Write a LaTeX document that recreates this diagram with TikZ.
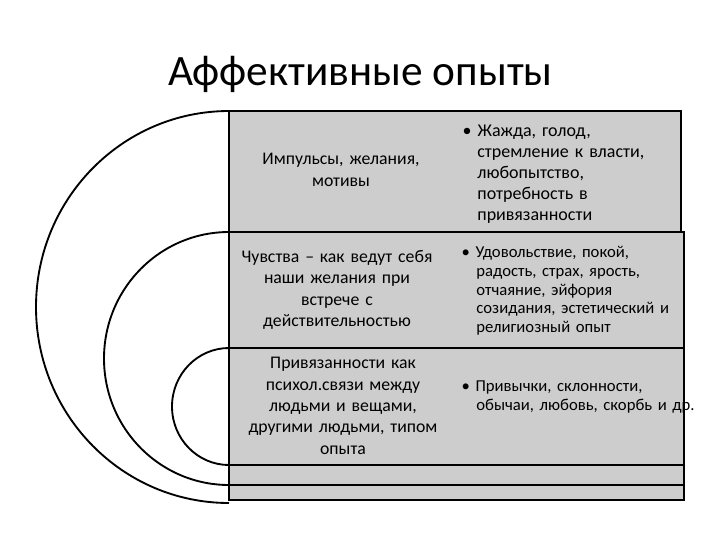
\documentclass[tikz,border=0pt]{standalone}
\usepackage{fontspec}
\setmainfont{Carlito}
\definecolor{boxgray}{HTML}{CDCDCD}
\begin{document}
\begin{tikzpicture}[x=0.75pt,y=-0.75pt,
  row/.style={draw=black,line width=1.4pt,fill=boxgray},
  arcline/.style={draw=black,line width=1.4pt},
  lefttxt/.style={align=center,font=\fontsize{13.3}{16}\selectfont,text width=170pt},
  righttxt/.style={align=left,font=\fontsize{12.5}{14}\selectfont,text width=200pt,anchor=north west}]
\useasboundingbox (0,0) rectangle (720,540);
\node[font=\fontsize{32.5}{36}\selectfont,anchor=base west,inner sep=0pt] (title) at (168,85) {Аффективные опыты};
\path[row] (229,111) rectangle (681,232);
\path[row] (229,232) rectangle (684,348);
\path[row] (229,348) rectangle (684,465);
\path[row] (229,465) rectangle (684,485);
\path[row] (229,485) rectangle (684,500);
\draw[arcline] (229,111) arc[start angle=270,end angle=90,x radius=193,y radius=196];
\draw[arcline] (229,232) arc[start angle=270,end angle=90,x radius=125,y radius=126.5];
\draw[arcline] (229,348) arc[start angle=270,end angle=90,x radius=57,y radius=58.5];
\node[lefttxt] (l1) at (341,170) {Импульсы, желания,\\мотивы};
\node[lefttxt] (l2) at (337,290) {Чувства – как ведут себя\\наши желания при\\встрече с\\действительностью};
\node[lefttxt] (l3) at (343,406) {Привязанности как\\психол.связи между\\людьми и вещами,\\другими людьми, типом\\опыта};
\node[righttxt,font=\fontsize{13.5}{15.75}\selectfont] (r1) at (458,120) {• Жажда, голод,\\\hspace*{11pt}стремление к власти,\\\hspace*{11pt}любопытство,\\\hspace*{11pt}потребность в\\\hspace*{11pt}привязанности};
\node[righttxt] (r2) at (457,242) {• Удовольствие, покой,\\\hspace*{11pt}радость, страх, ярость,\\\hspace*{11pt}отчаяние, эйфория\\\hspace*{11pt}созидания, эстетический и\\\hspace*{11pt}религиозный опыт};
\node[righttxt,text width=220pt] (r3) at (457,376) {• Привычки, склонности,\\\hspace*{11pt}обычаи, любовь, скорбь и др.};
\end{tikzpicture}
\end{document}
